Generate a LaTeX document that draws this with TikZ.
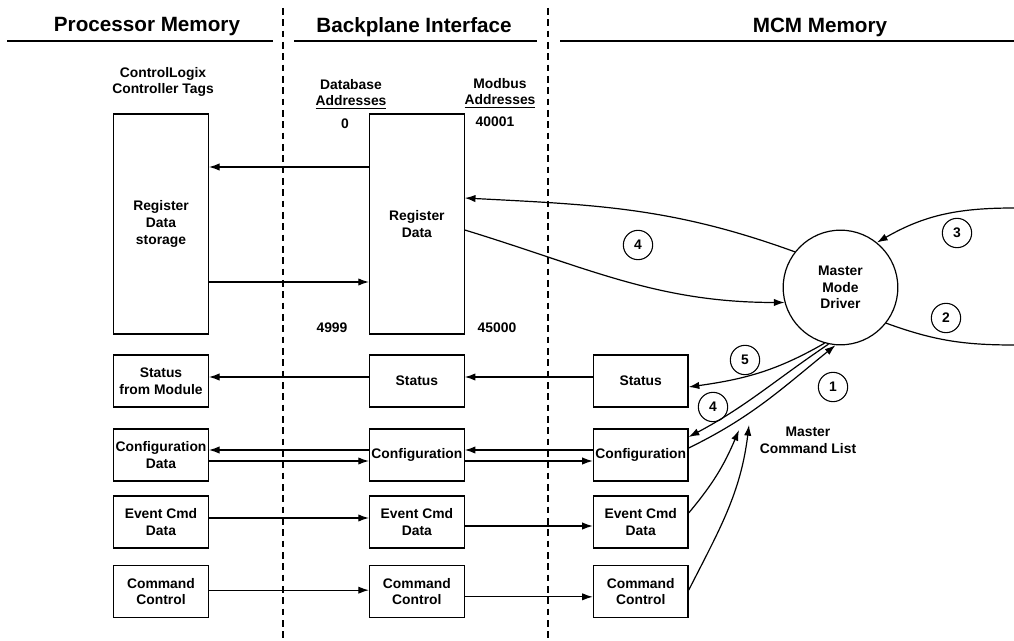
\documentclass[tikz,border=0pt]{standalone}
\usepackage{fontspec}
\setmainfont{Liberation Sans}
\usetikzlibrary{arrows.meta, positioning}
\newcommand{\mfont}{\fontsize{10.4}{12.5}\selectfont\bfseries}
\tikzset{
  mbox/.style={draw, line width=0.9pt, minimum width=71pt, minimum height=39pt,
               inner sep=1pt, align=center, font=\mfont},
  mreg/.style={mbox, minimum height=165pt},
  mdrv/.style={draw, circle, line width=0.9pt, minimum size=86pt, inner sep=0pt,
               align=center, font=\mfont},
  mnum/.style={draw, circle, line width=0.8pt, minimum size=22pt, inner sep=0pt,
               font=\mfont},
  mlab/.style={align=center, inner sep=1pt, font=\mfont},
  mhead/.style={font=\fontsize{15.5}{18}\selectfont\bfseries},
  marr/.style={-{Latex[length=8pt, width=5.5pt]}, line width=0.9pt},
  mline/.style={line width=0.9pt},
  msep/.style={line width=1pt, dash pattern=on 5pt off 3.5pt},
}
\begin{document}
\begin{tikzpicture}[x=0.75pt, y=0.75pt]
\useasboundingbox (0,0) rectangle (1014,640);
% column headings and separators
\node[mhead] (hproc) at (147,613) {Processor Memory};
\node[mhead] (hback) at (414,613) {Backplane Interface};
\node[mhead] (hmcm) at (820,613) {MCM Memory};
\draw[mline] (7,599) -- (273,599);
\draw[mline] (294,599) -- (537,599);
\draw[mline] (560,599) -- (1014,599);
\draw[msep] (283,632) -- (283,0);
\draw[msep] (548,632) -- (548,0);
% processor memory
\node[mlab] (tags) at (163,558) {ControlLogix\\Controller Tags};
\node[mreg] (store) at (161,416) {Register\\Data\\storage};
\node[mbox] (pstat) at (161,259) {Status\\from Module};
\node[mbox] (pcfg) at (161,185) {Configuration\\Data};
\node[mbox] (pevt) at (161,118) {Event Cmd\\Data};
\node[mbox] (pcmd) at (161,48.5) {Command\\Control};
% backplane interface
\node[mreg, right=120pt of store] (rd) {Register\\Data};
\node[mbox, right=120pt of pstat] (bstat) {Status};
\node[mbox, right=120pt of pcfg] (bcfg) {Configuration};
\node[mbox, right=120pt of pevt] (bevt) {Event Cmd\\Data};
\node[mbox, right=120pt of pcmd] (bcmd) {Command\\Control};
\node[mlab] (dbaddr) at (351,546) {Database\\\underline{Addresses}};
\node[mlab] (mbaddr) at (500,547) {Modbus\\\underline{Addresses}};
\node[mlab] (a0) at (345,516) {0};
\node[mlab] (a40001) at (495,518) {40001};
\node[mlab] (a4999) at (332,312) {4999};
\node[mlab] (a45000) at (497,312) {45000};
% mcm memory
\node[mbox, right=96pt of bstat] (mstat) {Status};
\node[mbox, right=96pt of bcfg] (mcfg) {Configuration};
\node[mbox, right=96pt of bevt] (mevt) {Event Cmd\\Data};
\node[mbox, right=96pt of bcmd] (mcmd) {Command\\Control};
\node[mdrv] (drv) at (840.5,352.5) {Master\\Mode\\Driver};
\node[mlab] (cmdlist) at (808,200) {Master\\Command List};
\coordinate (e3) at (1014,432);
\coordinate (e2) at (1014,295);
\coordinate (evtip) at (739,210);
\coordinate (cmtip) at (749,215);
% step numbers
\node[mnum] (c4top) at (638,395) {4};
\node[mnum] (c3) at (957,407) {3};
\node[mnum] (c2) at (946,322) {2};
\node[mnum] (c5) at (745,280) {5};
\node[mnum] (c4low) at (713,233) {4};
\node[mnum] (c1) at (833,253) {1};
% straight transfers
\draw[marr] ([yshift=42.75pt]rd.west) -- ([yshift=42.75pt]store.east);
\draw[marr] ([yshift=-43.5pt]store.east) -- ([yshift=-43.5pt]rd.west);
\draw[marr] ([yshift=3pt]bstat.west) -- ([yshift=3pt]pstat.east);
\draw[marr] ([yshift=3pt]mstat.west) -- ([yshift=3pt]bstat.east);
\draw[marr] ([yshift=3.75pt]bcfg.west) -- ([yshift=3.75pt]pcfg.east);
\draw[marr] ([yshift=-4.5pt]pcfg.east) -- ([yshift=-4.5pt]bcfg.west);
\draw[marr] ([yshift=3.75pt]mcfg.west) -- ([yshift=3.75pt]bcfg.east);
\draw[marr] ([yshift=-4.5pt]bcfg.east) -- ([yshift=-4.5pt]mcfg.west);
\draw[marr] ([yshift=3pt]pevt.east) -- ([yshift=3pt]bevt.west);
\draw[marr] ([yshift=-3pt]bevt.east) -- ([yshift=-3pt]mevt.west);
\draw[marr] ([yshift=1pt]pcmd.east) -- ([yshift=1pt]bcmd.west);
\draw[marr] ([yshift=-4pt]bcmd.east) -- ([yshift=-4pt]mcmd.west);
% driver paths
\draw[marr] (drv.142) to[out=160, in=-3] ([yshift=19.5pt]rd.east);
\draw[marr] ([yshift=-4.5pt]rd.east) to[out=-17, in=180] (drv.195);
\draw[marr] (e3) to[out=180, in=30] (drv.51);
\draw[mline] (drv.-38) to[out=-20, in=180] (e2);
\draw[marr] (drv.-106) to[out=210, in=8] ([yshift=-4.5pt]mstat.east);
\draw[marr] (drv.-102) to[out=214, in=28] ([yshift=13.5pt]mcfg.east);
\draw[marr] ([yshift=5.25pt]mcfg.east) to[out=26, in=219] (drv.-95);
\draw[marr] ([yshift=6.75pt]mevt.east) to[out=50, in=-113] (evtip);
\draw[marr] ([yshift=1pt]mcmd.east) to[out=63, in=-97] (cmtip);
\end{tikzpicture}
\end{document}
